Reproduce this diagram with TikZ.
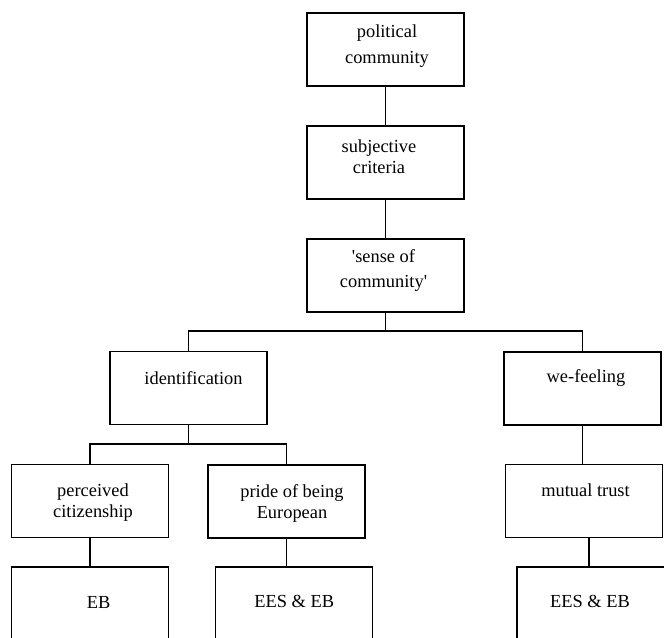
\documentclass[tikz,border=0pt]{standalone}
\usepackage{fontspec}
\setmainfont{Liberation Serif}[Ligatures=TeXOff]
\begin{document}
\begin{tikzpicture}[x=0.75pt,y=-0.75pt,inner sep=0pt,outer sep=0pt,line width=0.8pt,
box/.style={draw,rectangle,minimum width=117.75pt,minimum height=54.75pt,line width=0.8pt},
txt/.style={anchor=north,align=center,font=\fontsize{13.8}{15.75}\selectfont}]
\useasboundingbox (0,0) rectangle (664,637);
% boxes
\draw (385.5,49.5) node[box] (pol) {};
\draw (385.5,162.5) node[box] (subj) {};
\draw (385.5,275.5) node[box] (sense) {};
\draw (188.5,388) node[box] (ident) {};
\draw (582.5,388.5) node[box] (we) {};
\draw (90,501) node[box] (perc) {};
\draw (286.5,501.5) node[box] (pride) {};
\draw (584,501) node[box] (trust) {};
\draw (90,603.5) node[box] (eb) {};
\draw (294.3,603.5) node[box] (eesm) {};
\draw (595.5,603.5) node[box] (eesr) {};
% texts
\node[txt] (polT) at ([shift={(1.5,12)}]pol.north) {political\\[3.4pt]community};
\node[txt] (subjT) at ([shift={(-6.5,14)}]subj.north) {subjective\\criteria};
\node[txt] (senseT) at ([shift={(-2,11)}]sense.north) {'sense of\\[3pt]community'};
\node[txt] (identT) at ([shift={(5,20)}]ident.north) {identification};
\node[txt] (weT) at ([shift={(3.5,18)}]we.north) {we-feeling};
\node[txt] (percT) at ([shift={(3,19)}]perc.north) {perceived\\citizenship};
\node[txt] (prideT) at ([shift={(5.5,20)}]pride.north) {pride of being\\European};
\node[txt] (trustT) at ([shift={(1.5,19)}]trust.north) {mutual trust};
\node[txt] (ebT) at ([shift={(8.7,29)}]eb.north) {EB};
\node[txt] (eesmT) at ([shift={(0,28)}]eesm.north) {EES \& EB};
\node[txt] (eesrT) at ([shift={(-5.5,28)}]eesr.north) {EES \& EB};
% connectors
\coordinate (bus1) at (385.5,331);
\coordinate (bus2) at (188.5,444);
\draw (pol.south) -- (subj.north);
\draw (subj.south) -- (sense.north);
\draw (sense.south) -- (bus1);
\draw (ident.north) |- (bus1) -| (we.north);
\draw (ident.south) -- (bus2);
\draw (perc.north) |- (bus2) -| (pride.north);
\draw (we.south) -- (we.south |- trust.north);
\draw (perc.south) -- (eb.north);
\draw (pride.south) -- (pride.south |- eesm.north);
\draw ([xshift=3.75pt]trust.south) -- ([xshift=3.75pt]trust.south |- eesr.north);
\end{tikzpicture}
\end{document}
